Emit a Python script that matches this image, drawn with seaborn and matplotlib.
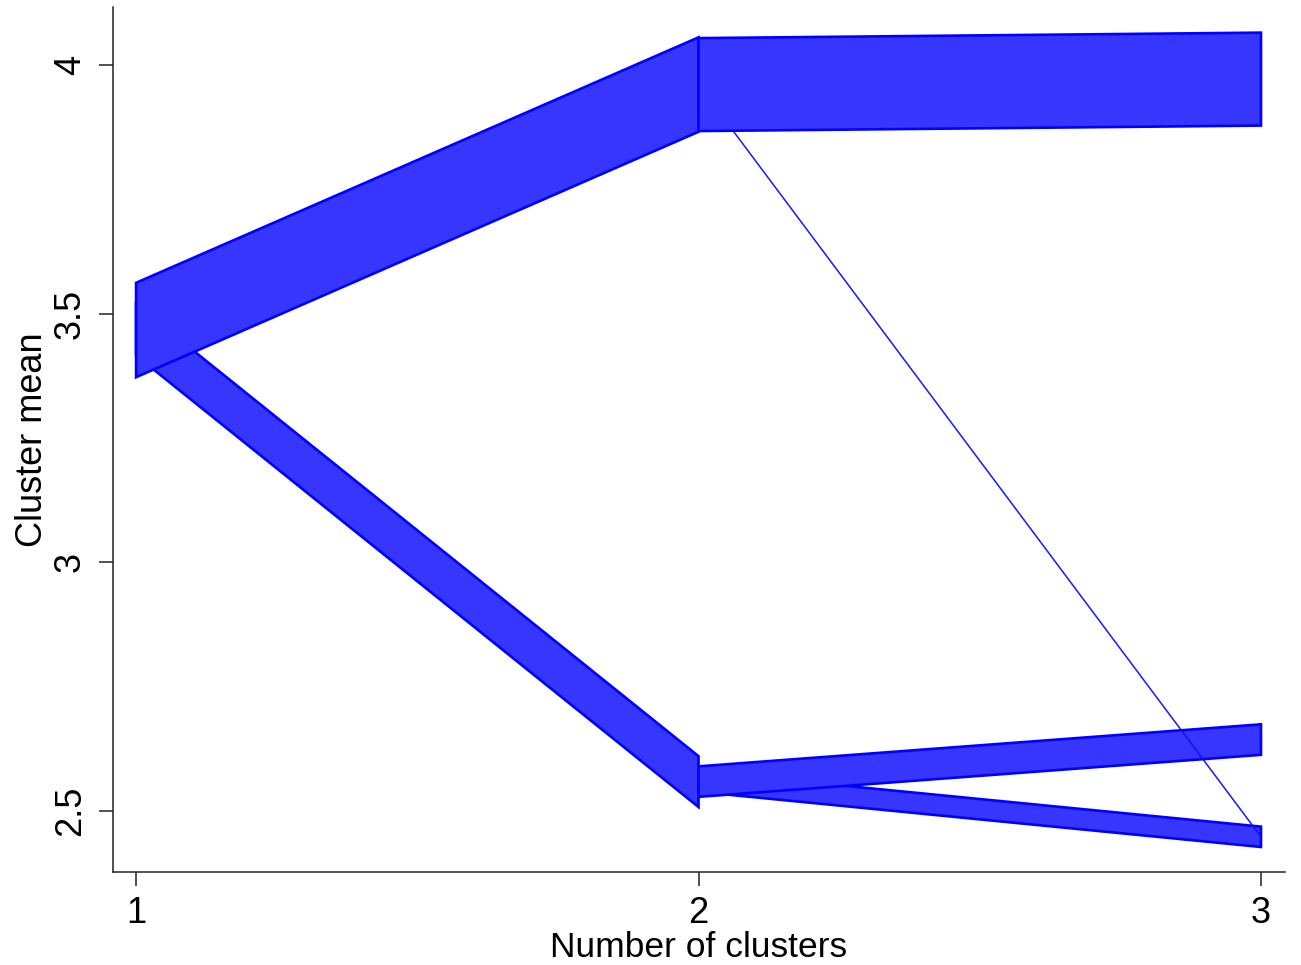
import matplotlib
matplotlib.use("Agg")
import matplotlib.pyplot as plt
import seaborn as sns

# cluster transitions: from k clusters to k+1 clusters
from_k = [1, 1, 2, 2, 2, 2]
from_mean = [3.467, 3.467, 2.559, 2.559, 3.9605, 3.9605]
to_mean = [2.559, 3.9605, 2.448, 2.6435, 2.448, 3.9715]
n_obs = [35, 65, 14, 21, 1, 64]

k_ticks = [1, 2, 3]
y_ticks = [2.5, 3, 3.5, 4]
y_ticklabels = ["2.5", "3", "3.5", "4"]

WIDTH_PER_OBS = 0.00292
FILL = "#3636FF"
EDGE = "#0000FF"

sns.set_theme(style="ticks")
plt.rcParams["font.family"] = ["Liberation Sans", "DejaVu Sans"]

fig = plt.figure(figsize=(13.01, 9.65), dpi=100)
ax = fig.add_axes([0.0869, 0.0964, 0.9008, 0.8964])

for k, fm, tm, n in zip(from_k, from_mean, to_mean, n_obs):
    w = n * WIDTH_PER_OBS / 2
    xs = [k, k, k + 1, k + 1]
    ys = [fm - w, fm + w, tm + w, tm - w]
    lw = 1.9 if n > 1 else 0.4
    ax.fill(xs, ys, facecolor=FILL, edgecolor=EDGE, linewidth=lw, joinstyle="miter")

ax.set_xlim(0.9591, 3.0427)
ax.set_ylim(2.3773, 4.1166)
ax.set_xticks(k_ticks)
ax.set_xticklabels([str(k) for k in k_ticks])
ax.set_yticks(y_ticks)
ax.set_yticklabels(y_ticklabels, rotation=90, va="center")

ax.tick_params(axis="both", labelsize=26, length=10, width=1.1, color="#222222",
               labelcolor="black", direction="out")
ax.tick_params(axis="x", pad=7)
ax.tick_params(axis="y", pad=8)

ax.set_xlabel("Number of clusters", fontsize=25.5, color="black", labelpad=0)
ax.set_ylabel("Cluster mean", fontsize=26, color="black", labelpad=2)

for side in ["top", "right"]:
    ax.spines[side].set_visible(False)
for side in ["left", "bottom"]:
    ax.spines[side].set_linewidth(1.1)
    ax.spines[side].set_color("#222222")

fig.savefig("out.png", dpi=100)
